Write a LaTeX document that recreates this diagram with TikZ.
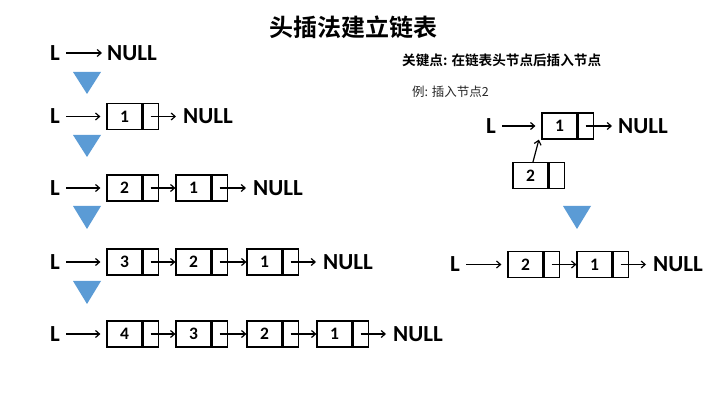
\documentclass[tikz,border=0pt]{standalone}
\usepackage{fontspec}
\setmainfont{Carlito}
\newfontfamily\cjk{Noto Sans CJK SC}[BoldFont={Noto Sans CJK SC Bold}]
\usetikzlibrary{arrows.meta}
\definecolor{triblue}{HTML}{5B9BD5}
\newcommand\lnode[4]{%
  \node[dcell] (#1) at (#2+17.5,#3) {#4};
  \node[pcell,anchor=west] (#1p) at (#1.east) {};}
\begin{document}
\begin{tikzpicture}[x=1pt,y=-1pt,
  big/.style={font=\bfseries\fontsize{23}{23}\selectfont, inner sep=0pt},
  dcell/.style={draw, line width=1.2pt, minimum width=35pt, minimum height=26pt, inner sep=0pt, font=\bfseries\fontsize{17.5}{17.5}\selectfont},
  pcell/.style={draw, line width=1.2pt, minimum width=15pt, minimum height=26pt, inner sep=0pt},
  arr/.style={-{Straight Barb[length=4pt,width=7pt]}, line width=1.2pt},
  tri/.style={fill=triblue}]
\useasboundingbox (0,0) rectangle (728,411);
% title and notes
\node[font=\cjk\bfseries\fontsize{24}{24}\selectfont, inner sep=0pt] (title) at (353,27) {头插法建立链表};
\node[anchor=west, font=\cjk\bfseries\fontsize{13.6}{13.6}\selectfont, inner sep=0pt] (key) at (402,60) {关键点: 在链表头节点后插入节点};
\node[anchor=west, font=\cjk\fontsize{12.5}{12.5}\selectfont, text=black!85, inner sep=0pt] (ex) at (412,92) {例: 插入节点2};
% row 0
\node[big] (L0) at (55,53) {L};
\node[big,anchor=west] (N0) at (107,53) {NULL};
\draw[arr, shorten <=6pt, shorten >=5pt] (L0) -- (N0);
\fill[tri] (73,72) -- (101,72) -- (87,94) -- cycle;
% row 1
\node[big] (L1) at (55,116.5) {L};
\lnode{a1}{107}{116.5}{1}
\node[big,anchor=west] (N1) at (183,116.5) {NULL};
\draw[arr, shorten <=6pt, shorten >=6pt] (L1) -- (a1);
\draw[arr, shorten >=7pt] (a1p.center) -- (N1.west);
\fill[tri] (73,135) -- (101,135) -- (87,157) -- cycle;
% row 2
\node[big] (L2) at (55,188) {L};
\lnode{b2}{107}{188}{2}
\lnode{b1}{176}{188}{1}
\node[big,anchor=west] (N2) at (253,188) {NULL};
\draw[arr, shorten <=6pt, shorten >=6pt] (L2) -- (b2);
\draw[arr] (b2p.center) -- (b1.west);
\draw[arr, shorten >=7pt] (b1p.center) -- (N2.west);
\fill[tri] (73,206) -- (101,206) -- (87,229) -- cycle;
% row 3
\node[big] (L3) at (55,262) {L};
\lnode{c3}{107}{262}{3}
\lnode{c2}{176}{262}{2}
\lnode{c1}{247}{262}{1}
\node[big,anchor=west] (N3) at (323,262) {NULL};
\draw[arr, shorten <=6pt, shorten >=6pt] (L3) -- (c3);
\draw[arr] (c3p.center) -- (c2.west);
\draw[arr] (c2p.center) -- (c1.west);
\draw[arr, shorten >=7pt] (c1p.center) -- (N3.west);
\fill[tri] (73,281) -- (101,281) -- (87,304) -- cycle;
% row 4
\node[big] (L4) at (55,334) {L};
\lnode{d4}{107}{334}{4}
\lnode{d3}{176}{334}{3}
\lnode{d2}{247}{334}{2}
\lnode{d1}{317}{334}{1}
\node[big,anchor=west] (N4) at (393,334) {NULL};
\draw[arr, shorten <=6pt, shorten >=6pt] (L4) -- (d4);
\draw[arr] (d4p.center) -- (d3.west);
\draw[arr] (d3p.center) -- (d2.west);
\draw[arr] (d2p.center) -- (d1.west);
\draw[arr, shorten >=7pt] (d1p.center) -- (N4.west);
% right: example
\node[big] (RL1) at (491,126) {L};
\lnode{r1}{542}{126}{1}
\node[big,anchor=west] (RN1) at (618,126) {NULL};
\draw[arr, shorten <=6pt, shorten >=6pt] (RL1) -- (r1);
\draw[arr, shorten >=6pt] (r1p.center) -- (RN1.west);
\lnode{r2}{513}{175.5}{2}
\draw[arr] ([xshift=2.5pt]r2.north) -- ([xshift=-2.5pt]r1.south west);
\fill[tri] (563,206) -- (591,206) -- (577,229) -- cycle;
\node[big] (RL2) at (455,264.5) {L};
\lnode{s2}{508}{264.5}{2}
\lnode{s1}{577}{264.5}{1}
\node[big,anchor=west] (RN2) at (653,264.5) {NULL};
\draw[arr, shorten <=6pt, shorten >=6pt] (RL2) -- (s2);
\draw[arr] (s2p.center) -- (s1.west);
\draw[arr, shorten >=7pt] (s1p.center) -- (RN2.west);
\end{tikzpicture}
\end{document}
